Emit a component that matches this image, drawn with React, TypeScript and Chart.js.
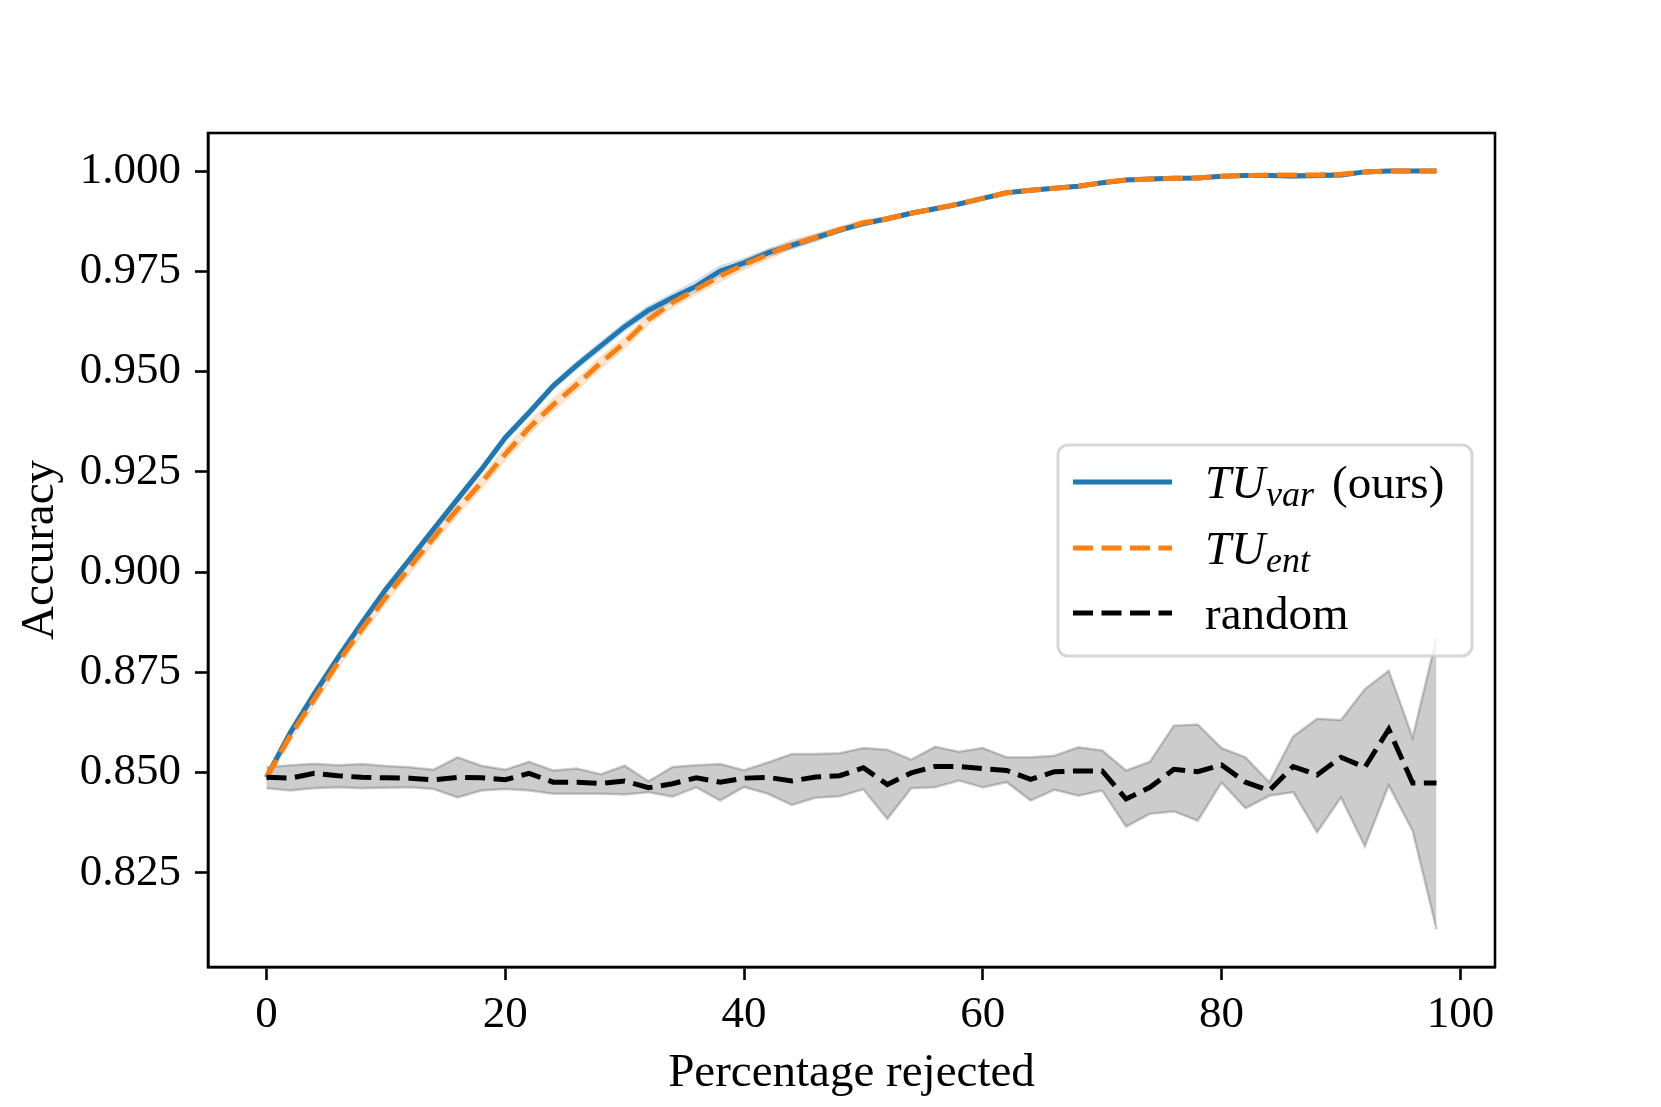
import React, { useEffect, useRef } from 'react';
import { Chart, registerables } from 'chart.js';

Chart.register(...registerables);

// ---------- data ----------
const xs = [0, 2, 4, 6, 8, 10, 12, 14, 16, 18, 20, 22, 24, 26, 28, 30, 32, 34, 36, 38, 40, 42, 44, 46, 48,
  50, 52, 54, 56, 58, 60, 62, 64, 66, 68, 70, 72, 74, 76, 78, 80, 82, 84, 86, 88, 90, 92, 94, 96, 98];

const tuVar = [0.8488, 0.8600, 0.8696, 0.8787, 0.8874, 0.8957, 0.9032, 0.9107, 0.9182, 0.9256, 0.9335, 0.9398,
  0.9464, 0.9516, 0.9564, 0.9612, 0.9653, 0.9684, 0.9713, 0.9751, 0.9771, 0.9796, 0.9815, 0.9834, 0.9853,
  0.9869, 0.9881, 0.9895, 0.9906, 0.9918, 0.9932, 0.9946, 0.9952, 0.9957, 0.9962, 0.9971, 0.9978, 0.9980,
  0.9982, 0.9983, 0.9987, 0.9989, 0.9989, 0.9988, 0.9989, 0.9990, 0.9998, 1.0000, 1.0000, 1.0000];
const tuVarHi = [0.8500, 0.8612, 0.8708, 0.8797, 0.8884, 0.8966, 0.9041, 0.9116, 0.9191, 0.9265, 0.9344, 0.9407,
  0.9473, 0.9526, 0.9575, 0.9623, 0.9664, 0.9695, 0.9727, 0.9764, 0.9782, 0.9806, 0.9824, 0.9842, 0.9860,
  0.9875, 0.9886, 0.9900, 0.9910, 0.9922, 0.9936, 0.9950, 0.9956, 0.9961, 0.9966, 0.9974, 0.9981, 0.9983,
  0.9985, 0.9986, 0.9990, 0.9992, 0.9993, 0.9994, 0.9995, 0.9996, 1.0000, 1.0000, 1.0000, 1.0000];
const tuVarLo = [0.8476, 0.8588, 0.8684, 0.8777, 0.8864, 0.8948, 0.9023, 0.9098, 0.9173, 0.9247, 0.9326, 0.9389,
  0.9455, 0.9506, 0.9553, 0.9601, 0.9642, 0.9673, 0.9699, 0.9738, 0.9760, 0.9786, 0.9806, 0.9826, 0.9846,
  0.9863, 0.9876, 0.9890, 0.9902, 0.9914, 0.9928, 0.9942, 0.9948, 0.9953, 0.9958, 0.9968, 0.9975, 0.9977,
  0.9979, 0.9980, 0.9984, 0.9986, 0.9985, 0.9982, 0.9983, 0.9984, 0.9996, 1.0000, 1.0000, 1.0000];

const tuEnt = [0.8488, 0.8592, 0.8683, 0.8775, 0.8858, 0.8937, 0.9012, 0.9086, 0.9157, 0.9223, 0.9294, 0.9360,
  0.9417, 0.9468, 0.9522, 0.9572, 0.9630, 0.9672, 0.9705, 0.9738, 0.9767, 0.9792, 0.9817, 0.9834, 0.9854,
  0.9871, 0.9881, 0.9895, 0.9906, 0.9918, 0.9932, 0.9946, 0.9952, 0.9957, 0.9962, 0.9971, 0.9978, 0.9980,
  0.9982, 0.9983, 0.9987, 0.9989, 0.9990, 0.9990, 0.9990, 0.9992, 0.9998, 1.0000, 1.0000, 1.0000];
const tuEntHi = [0.8500, 0.8606, 0.8698, 0.8790, 0.8873, 0.8952, 0.9028, 0.9102, 0.9173, 0.9239, 0.9310, 0.9376,
  0.9433, 0.9483, 0.9537, 0.9586, 0.9643, 0.9684, 0.9718, 0.9752, 0.9780, 0.9804, 0.9828, 0.9844, 0.9862,
  0.9878, 0.9887, 0.9900, 0.9911, 0.9922, 0.9936, 0.9950, 0.9956, 0.9961, 0.9966, 0.9975, 0.9982, 0.9984,
  0.9987, 0.9988, 0.9991, 0.9993, 0.9994, 0.9994, 0.9994, 0.9996, 1.0000, 1.0000, 1.0000, 1.0000];
const tuEntLo = [0.8476, 0.8578, 0.8668, 0.8760, 0.8843, 0.8922, 0.8996, 0.9070, 0.9141, 0.9207, 0.9278, 0.9344,
  0.9401, 0.9453, 0.9507, 0.9558, 0.9617, 0.9660, 0.9692, 0.9724, 0.9754, 0.9780, 0.9806, 0.9824, 0.9846,
  0.9864, 0.9875, 0.9890, 0.9901, 0.9914, 0.9928, 0.9942, 0.9948, 0.9953, 0.9958, 0.9967, 0.9974, 0.9976,
  0.9977, 0.9978, 0.9983, 0.9985, 0.9986, 0.9986, 0.9986, 0.9988, 0.9996, 1.0000, 1.0000, 1.0000];

const randomMean = [0.8488, 0.8486, 0.8498, 0.8492, 0.8488, 0.8487, 0.8486, 0.8482, 0.8488, 0.8487, 0.8482, 0.8498,
  0.8476, 0.8476, 0.8473, 0.8479, 0.8462, 0.8472, 0.8487, 0.8476, 0.8486, 0.8488, 0.8479, 0.8489, 0.8492,
  0.8512, 0.8470, 0.8499, 0.8515, 0.8515, 0.8510, 0.8505, 0.8483, 0.8502, 0.8504, 0.8504, 0.8434, 0.8463,
  0.8508, 0.8502, 0.8519, 0.8476, 0.8455, 0.8515, 0.8494, 0.8538, 0.8513, 0.8608, 0.8474, 0.8474];
const randomHi = [0.8513, 0.8518, 0.8522, 0.8518, 0.8521, 0.8516, 0.8513, 0.8507, 0.8538, 0.8517, 0.8507, 0.8527,
  0.8505, 0.8510, 0.8496, 0.8517, 0.8478, 0.8514, 0.8518, 0.8521, 0.8506, 0.8525, 0.8546, 0.8546, 0.8548,
  0.8561, 0.8557, 0.8532, 0.8564, 0.8552, 0.8561, 0.8538, 0.8538, 0.8542, 0.8563, 0.8555, 0.8505, 0.8527,
  0.8617, 0.8620, 0.8561, 0.8538, 0.8476, 0.8590, 0.8634, 0.8631, 0.8708, 0.8754, 0.8587, 0.8836];
const randomLo = [0.8461, 0.8455, 0.8461, 0.8463, 0.8461, 0.8462, 0.8463, 0.8459, 0.8438, 0.8455, 0.8459, 0.8455,
  0.8447, 0.8447, 0.8447, 0.8445, 0.8451, 0.8440, 0.8463, 0.8430, 0.8464, 0.8447, 0.8419, 0.8437, 0.8441,
  0.8458, 0.8384, 0.8461, 0.8463, 0.8480, 0.8463, 0.8476, 0.8430, 0.8457, 0.8442, 0.8455, 0.8365, 0.8397,
  0.8403, 0.8380, 0.8475, 0.8411, 0.8442, 0.8451, 0.8351, 0.8438, 0.8316, 0.8468, 0.8355, 0.8109];

const yTicks = [0.825, 0.85, 0.875, 0.9, 0.925, 0.95, 0.975, 1.0];
const xTicks = [0, 20, 40, 60, 80, 100];

const legendMain = ['TU', 'TU', 'random'];
const legendSub = ['var', 'ent', ''];
const legendSuffix = ['(ours)', '', ''];
const legendColors = ['#1f77b4', '#ff7f0e', '#000000'];
const legendDashed = [false, true, true];

const xTitle = 'Percentage rejected';
const yTitle = 'Accuracy';

// ---------- styling ----------
const SERIF = '"Liberation Serif", "Times New Roman", serif';
const W = 1661;
const H = 1107;
const DASH = [20, 8.5];
const LW = 5;

const framePlugin = {
  id: 'frame',
  afterDatasetsDraw(chart: any) {
    const { ctx, chartArea } = chart;
    ctx.save();
    ctx.strokeStyle = '#000';
    ctx.lineWidth = 2.6;
    ctx.strokeRect(chartArea.left, chartArea.top, chartArea.right - chartArea.left, chartArea.bottom - chartArea.top);
    ctx.restore();
  },
};

const legendPlugin = {
  id: 'mplLegend',
  afterDraw(chart: any) {
    const c: CanvasRenderingContext2D = chart.ctx;
    c.save();
    const bx = 1058, by = 445, bw = 414, bh = 211;
    c.beginPath();
    (c as any).roundRect(bx, by, bw, bh, 10);
    c.fillStyle = 'rgba(255,255,255,0.8)';
    c.fill();
    c.lineWidth = 3;
    c.strokeStyle = 'rgba(204,204,204,0.8)';
    c.stroke();

    const rows = [482, 548, 613];
    const x0 = 1073, x1 = 1172, tx = 1205;
    for (let i = 0; i < legendMain.length; i++) {
      const ry = rows[i];
      c.beginPath();
      c.setLineDash(legendDashed[i] ? DASH : []);
      c.lineCap = 'butt';
      c.strokeStyle = legendColors[i];
      c.lineWidth = LW;
      c.moveTo(x0, ry);
      c.lineTo(x1, ry);
      c.stroke();
      c.setLineDash([]);

      c.fillStyle = '#000';
      c.textBaseline = 'alphabetic';
      c.textAlign = 'left';
      const base = ry + 16;
      let x = tx;
      if (legendSub[i]) {
        c.font = `italic 47px ${SERIF}`;
        c.fillText(legendMain[i], x, base);
        x += c.measureText(legendMain[i]).width + 1;
        c.font = `italic 36px ${SERIF}`;
        c.fillText(legendSub[i], x, base + 8);
        x += c.measureText(legendSub[i]).width;
        if (legendSuffix[i]) {
          c.font = `47px ${SERIF}`;
          c.fillText(legendSuffix[i], x + 18, base);
        }
      } else {
        c.font = `47px ${SERIF}`;
        c.fillText(legendMain[i], x, base);
      }
    }
    c.restore();
  },
};

function pts(ys: number[]) {
  return xs.map((x, i) => ({ x, y: ys[i] }));
}

export default function App() {
  const ref = useRef<HTMLCanvasElement>(null);

  useEffect(() => {
    document.body.style.margin = '0';
    const canvas = ref.current;
    if (!canvas) return;

    const band = (lo: number[], hi: number[], rgb: string, width: number) => [
      {
        data: pts(lo),
        borderColor: `rgba(${rgb},0.2)`,
        borderWidth: width,
        pointRadius: 0,
        fill: false,
        order: 10,
        tension: 0,
      },
      {
        data: pts(hi),
        borderColor: `rgba(${rgb},0.2)`,
        backgroundColor: `rgba(${rgb},0.2)`,
        borderWidth: width,
        pointRadius: 0,
        fill: '-1',
        order: 10,
        tension: 0,
      },
    ];

    const chart = new Chart(canvas, {
      type: 'line',
      data: {
        datasets: [
          ...band(tuVarLo, tuVarHi, '31,119,180', 1),
          ...band(tuEntLo, tuEntHi, '255,127,14', 1),
          ...band(randomLo, randomHi, '0,0,0', 2.5),
          {
            data: pts(tuVar),
            borderColor: '#1f77b4',
            borderWidth: LW,
            pointRadius: 0,
            fill: false,
            order: 3,
            tension: 0,
          },
          {
            data: pts(tuEnt),
            borderColor: '#ff7f0e',
            borderWidth: LW,
            borderDash: DASH,
            pointRadius: 0,
            fill: false,
            order: 2,
            tension: 0,
          },
          {
            data: pts(randomMean),
            borderColor: '#000000',
            borderWidth: LW,
            borderDash: DASH,
            pointRadius: 0,
            fill: false,
            order: 1,
            tension: 0,
          },
        ] as any,
      },
      options: {
        responsive: false,
        maintainAspectRatio: false,
        devicePixelRatio: 1,
        animation: false,
        events: [],
        layout: { padding: { left: 0, top: 133, right: 166, bottom: 0 } },
        plugins: {
          legend: { display: false },
          tooltip: { enabled: false },
        },
        scales: {
          x: {
            type: 'linear',
            min: -4.9,
            max: 102.9,
            afterBuildTicks: (s: any) => {
              s.ticks = xTicks.map((v) => ({ value: v }));
            },
            afterFit: (s: any) => {
              s.height = 140;
            },
            ticks: {
              color: '#000',
              font: { family: SERIF, size: 45 },
              padding: 8,
              maxRotation: 0,
              autoSkip: false,
              callback: (v: any) => String(Math.round(Number(v))),
            },
            grid: {
              drawOnChartArea: false,
              drawTicks: true,
              tickLength: 13,
              tickWidth: 2.6,
              tickColor: '#000',
              color: '#000',
            },
            border: { display: true, color: '#000', width: 2.6 },
            title: {
              display: true,
              text: xTitle,
              color: '#000',
              font: { family: SERIF, size: 47 },
              padding: { top: 0, bottom: 5 },
            },
          },
          y: {
            type: 'linear',
            min: 0.8015,
            max: 1.0095,
            afterBuildTicks: (s: any) => {
              s.ticks = yTicks.map((v) => ({ value: v }));
            },
            afterFit: (s: any) => {
              s.width = 208;
            },
            ticks: {
              color: '#000',
              font: { family: SERIF, size: 45 },
              padding: 14,
              autoSkip: false,
              callback: (v: any) => Number(v).toFixed(3),
            },
            grid: {
              drawOnChartArea: false,
              drawTicks: true,
              tickLength: 13,
              tickWidth: 2.6,
              tickColor: '#000',
              color: '#000',
            },
            border: { display: true, color: '#000', width: 2.6 },
            title: {
              display: true,
              text: yTitle,
              color: '#000',
              font: { family: SERIF, size: 47 },
              padding: { top: 12, bottom: 0 },
            },
          },
        },
      } as any,
      plugins: [framePlugin, legendPlugin],
    });

    return () => chart.destroy();
  }, []);

  return (
    <div style={{ position: 'fixed', left: 0, top: 0, width: W, height: H, background: '#fff' }}>
      <canvas ref={ref} width={W} height={H} style={{ width: W, height: H, display: 'block' }} />
    </div>
  );
}
